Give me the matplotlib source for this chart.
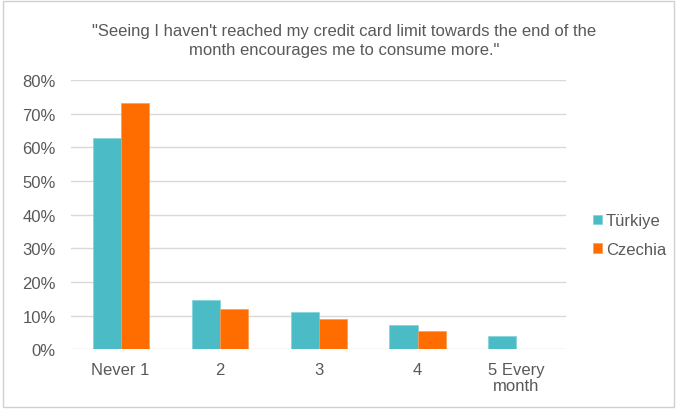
import numpy as np
import matplotlib
matplotlib.use('Agg')
import matplotlib.pyplot as plt
from matplotlib.patches import Rectangle
from matplotlib.ticker import PercentFormatter

categories = ['Never 1', '2', '3', '4', '5 Every\nmonth']
turkiye = [62.7, 14.7, 10.9, 7.2, 3.9]
czechia = [73.3, 11.9, 9.1, 5.4, 0.0]
title = '"Seeing I haven\'t reached my credit card limit towards the end of the\nmonth encourages me to consume more."'

plt.rcParams['font.family'] = ['Liberation Sans', 'DejaVu Sans']
text_color = '#595959'

fig = plt.figure(figsize=(6.77, 4.10), dpi=100)
ax = fig.add_axes([0.105, 0.146, 0.731, 0.656])

x = np.arange(len(categories))
w = 0.283
ax.bar(x - w / 2, turkiye, w, color='#4BBCC6', edgecolor='#7fd3da', linewidth=0.5, label='Türkiye', zorder=3)
ax.bar(x + w / 2, czechia, w, color='#FF6D00', edgecolor='#ff9a50', linewidth=0.5, label='Czechia', zorder=3)

ax.set_xlim(-0.5, len(categories) - 0.5)
ax.set_ylim(0, 80)
ax.set_yticks(np.arange(0, 81, 10))
ax.yaxis.set_major_formatter(PercentFormatter(decimals=0))
ax.set_xticks(x)
ax.set_xticklabels(categories, linespacing=1.15)
ax.grid(axis='y', color='#d9d9d9', linewidth=1, zorder=0)
for s in ax.spines.values():
    s.set_visible(False)
ax.tick_params(length=0, labelsize=12, colors=text_color)
ax.tick_params(axis='y', pad=11)
ax.tick_params(axis='x', pad=9)

fig.text(0.508, 0.9, title, ha='center', va='center', fontsize=12, color=text_color, linespacing=1.35)

ax.legend(loc='center left', bbox_to_anchor=(1.055, 0.424), frameon=False, fontsize=12,
          labelcolor=text_color, handlelength=0.5, handleheight=0.5, handletextpad=0.25,
          labelspacing=0.8, borderaxespad=0, borderpad=0)

fig.patches.append(Rectangle((0.004, 0.004), 0.992, 0.992, transform=fig.transFigure,
                             fill=False, edgecolor='#d0d0d0', linewidth=1))

fig.savefig('out.png', dpi=100)
